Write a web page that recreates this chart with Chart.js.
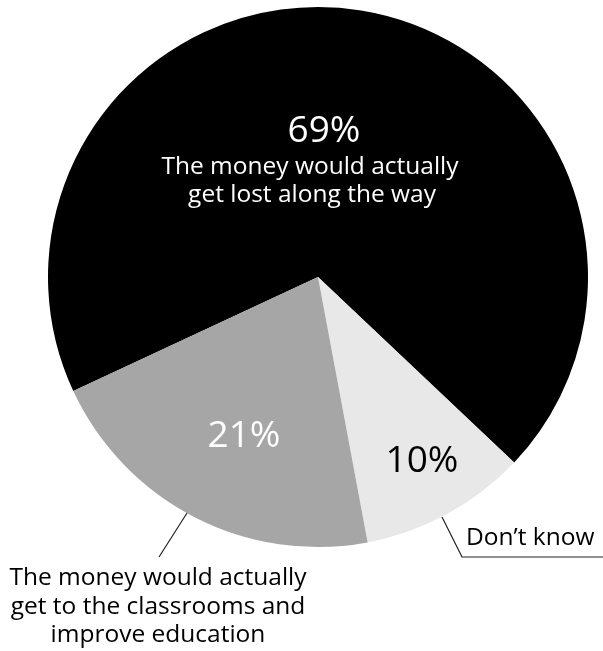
<!DOCTYPE html>
<html>
<head>
<meta charset="utf-8">
<script src="https://cdn.jsdelivr.net/npm/chart.js@4"></script>
<style>
  html, body { margin: 0; padding: 0; background: #fff; }
  #wrap { width: 603px; height: 651px; }
</style>
</head>
<body>
<div id="wrap"><canvas id="chart"></canvas></div>
<script>
const answers = ["The money would actually get lost along the way", "Don't know", "The money would actually get to the classrooms and improve education"];
const shares = [69, 10, 21];
const sliceColors = ["#000000", "#e8e8e8", "#a6a6a6"];

const FONT = '"Open Sans", sans-serif';

// text blocks for each slice: percent label inside the slice + answer text
const labelPlugin = {
    id: 'sliceLabels',
    afterDraw(chart) {
        const ctx = chart.ctx;
        const arcs = chart.getDatasetMeta(0).data;
        const cx = arcs[0].x, cy = arcs[0].y;
        ctx.save();
        ctx.textAlign = 'center';
        ctx.textBaseline = 'alphabetic';

        // black slice
        ctx.fillStyle = '#fff';
        ctx.font = '37px ' + FONT;
        ctx.fillText(shares[0] + '%', cx + 6, cy - 135);
        ctx.font = '24.5px ' + FONT;
        ctx.fillText('The money would actually', cx - 8, cy - 103);
        ctx.fillText('get lost along the way', cx - 6, cy - 75);

        // grey slice
        ctx.font = '37px ' + FONT;
        ctx.fillText(shares[2] + '%', cx - 74, cy + 170);

        // light slice
        ctx.fillStyle = '#000';
        ctx.fillText(shares[1] + '%', cx + 104, cy + 195);

        // leader for "Don't know"
        ctx.strokeStyle = '#222';
        ctx.lineWidth = 1.2;
        ctx.beginPath();
        ctx.moveTo(cx + 124, cy + 240);
        ctx.lineTo(cx + 144, cy + 280);
        ctx.lineTo(chart.width, cy + 280);
        ctx.stroke();
        ctx.textAlign = 'left';
        ctx.font = '24.5px ' + FONT;
        ctx.fillText(answers[1].replace("'", "\u2019"), cx + 148, cy + 268);

        // leader for the grey slice answer
        ctx.beginPath();
        ctx.moveTo(cx - 131, cy + 236);
        ctx.lineTo(cx - 159, cy + 280);
        ctx.stroke();
        ctx.textAlign = 'center';
        ctx.fillText('The money would actually', 158, cy + 308);
        ctx.fillText('get to the classrooms and', 158, cy + 337);
        ctx.fillText('improve education', 158, cy + 365);
        ctx.restore();
    }
};

new Chart(document.getElementById('chart'), {
    type: 'pie',
    data: {
        labels: answers,
        datasets: [{
            data: shares,
            backgroundColor: sliceColors,
            borderWidth: 0
        }]
    },
    options: {
        responsive: true,
        maintainAspectRatio: false,
        animation: false,
        rotation: 245,
        layout: { padding: { left: 48, right: 15, top: 7, bottom: 104 } },
        plugins: {
            legend: { display: false },
            tooltip: { enabled: false }
        }
    },
    plugins: [labelPlugin]
});
</script>
</body>
</html>
